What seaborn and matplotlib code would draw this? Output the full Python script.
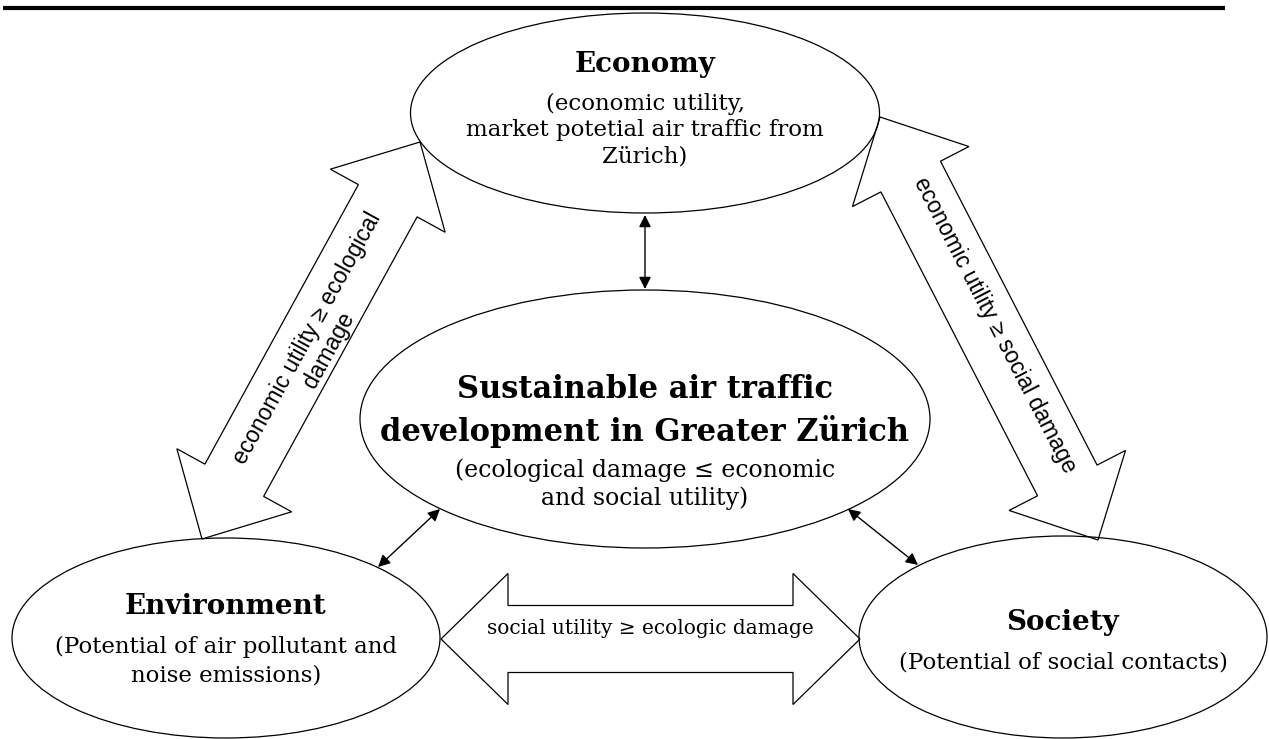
import numpy as np
import matplotlib.pyplot as plt
from matplotlib.patches import Ellipse, Polygon
import seaborn as sns

# Diagram content
node_titles = ["Economy",
               "Sustainable air traffic\ndevelopment in Greater Zürich",
               "Environment",
               "Society"]
node_notes = ["(economic utility,\nmarket potetial air traffic from\nZürich)",
              "(ecological damage ≤ economic\nand social utility)",
              "(Potential of air pollutant and\nnoise emissions)",
              "(Potential of social contacts)"]
link_labels = ["economic utility ≥ ecological\ndamage",
               "economic utility ≥ social damage",
               "social utility ≥ ecologic damage"]

# Layout in pixel coordinates (x right, y down)
node_center = [(645, 113), (645, 419), (226, 638), (1063, 637)]
node_size = [(469, 200), (570, 258), (428, 200), (408, 202)]
title_y = [64, 411, 607, 622]
note_y = [130, 484, 661, 662]
title_size = [20, 22, 20, 20]
note_size = [16.5, 17, 16.5, 16.5]
note_spacing = [1.26, 1.22, 1.4, 1.25]

sns.set_theme(style="white")
plt.rcParams['font.family'] = ['DejaVu Serif']
plt.rcParams['text.color'] = 'black'

fig = plt.figure(figsize=(12.69, 7.39), dpi=100)
ax = fig.add_axes([0, 0, 1, 1])
ax.set_xlim(0, 1269)
ax.set_ylim(739, 0)
ax.axis('off')


def double_arrow(p0, p1, shaft=67, head=131, head_len=67):
    p0 = np.asarray(p0, float)
    p1 = np.asarray(p1, float)
    u = (p1 - p0) / np.linalg.norm(p1 - p0)
    n = np.array([-u[1], u[0]])
    a = p0 + u * head_len
    b = p1 - u * head_len
    pts = [p0, a + n * head / 2, a + n * shaft / 2, b + n * shaft / 2,
           b + n * head / 2, p1, b - n * head / 2, b - n * shaft / 2,
           a - n * shaft / 2, a - n * head / 2]
    return Polygon(pts, closed=True, facecolor='white', edgecolor='black',
                   lw=0.9, zorder=1)


# top rule
ax.plot([3, 1225], [8, 8], color='black', lw=3, solid_capstyle='butt')

# big double arrows between the pillars
ax.add_patch(double_arrow((202, 539), (420, 142)))
ax.add_patch(double_arrow((880, 117), (1098, 540)))
ax.add_patch(double_arrow((441, 639), (860, 639)))

# ellipses
for (cx, cy), (w, h) in zip(node_center, node_size):
    ax.add_patch(Ellipse((cx, cy), w, h, facecolor='none', edgecolor='black',
                         lw=0.9, zorder=2))

for i in range(4):
    cx = node_center[i][0]
    ax.text(cx, title_y[i], node_titles[i], ha='center', va='center',
            fontsize=title_size[i], fontweight='bold', linespacing=1.38,
            color='black', zorder=3)
    ax.text(cx, note_y[i], node_notes[i], ha='center', va='center',
            fontsize=note_size[i], linespacing=note_spacing[i],
            color='black', zorder=3)

# labels on the arrows
ax.text(318, 344, link_labels[0], ha='center', va='center', rotation=61.2,
        rotation_mode='anchor', fontsize=16.5, family='Liberation Sans',
        linespacing=1.1, color='black', zorder=3)
ax.text(995, 325, link_labels[1], ha='center', va='center', rotation=-62.7,
        rotation_mode='anchor', fontsize=16.5, family='Liberation Sans',
        color='black', zorder=3)
ax.text(650, 628, link_labels[2], ha='center', va='center', fontsize=14.5,
        color='black', zorder=3)

# small connectors to the centre
small_links = [((645, 215), (645, 289)), ((378, 567), (440, 509)), ((918, 565), (848, 509))]
for a, b in small_links:
    ax.annotate('', xy=a, xytext=b,
                arrowprops=dict(arrowstyle='<|-|>', color='black', lw=1,
                                mutation_scale=18, shrinkA=0, shrinkB=0))

fig.savefig('out.png', dpi=100)
